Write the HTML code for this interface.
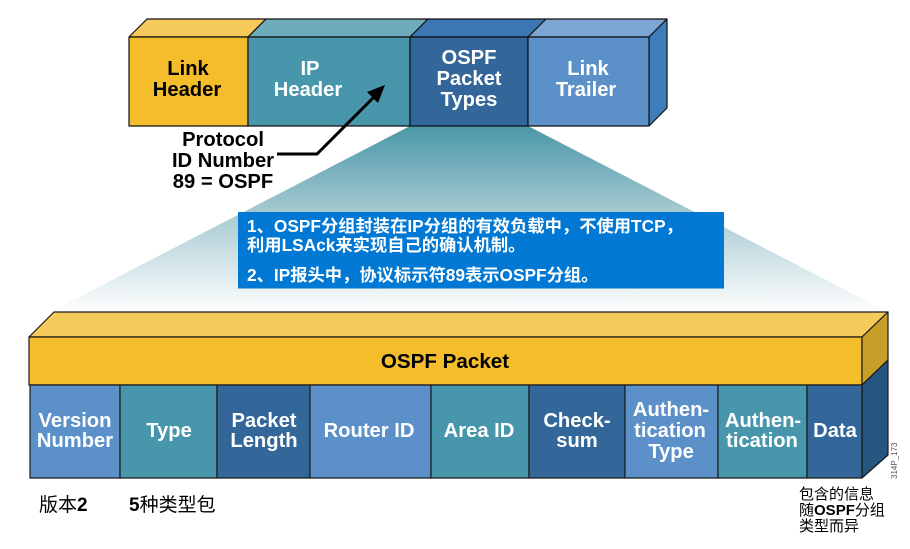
<!DOCTYPE html>
<html>
<head>
<meta charset="utf-8">
<style>
html,body{margin:0;padding:0;background:#fff;}
svg{display:block;}
text{font-family:"Liberation Sans","Noto Sans CJK SC",sans-serif;}
.l{font-size:20.200px;font-weight:bold;fill:#fff;text-anchor:middle;}
.k{font-size:20.200px;font-weight:bold;fill:#000;text-anchor:middle;}
.b{font-size:17.300px;font-weight:bold;fill:#fff;}
.n{font-size:15px;fill:#000;}
.n tspan{font-weight:bold;}
.m{font-size:19px;fill:#000;}
.m tspan{font-weight:bold;}
</style>
</head>
<body>
<svg width="910" height="549" viewBox="0 0 910 549" xmlns="http://www.w3.org/2000/svg">
<defs>
<linearGradient id="f" x1="0" y1="126" x2="0" y2="312" gradientUnits="userSpaceOnUse">
<stop offset="0" stop-color="#4a97a8"/>
<stop offset="0.45" stop-color="#a3c8d0"/>
<stop offset="1" stop-color="#ffffff"/>
</linearGradient>
</defs>
<rect width="910" height="549" fill="#fff"/>
<polygon points="410,126 528,126 888,312 50,312" fill="url(#f)"/>

<g stroke="#111" stroke-width="1.200" stroke-linejoin="round">
<polygon points="129,37 147,19 266,19 248,37" fill="#f5ca5a"/>
<polygon points="248,37 266,19 428,19 410,37" fill="#6eabbb"/>
<polygon points="410,37 428,19 546,19 528,37" fill="#3d77b3"/>
<polygon points="528,37 546,19 667,19 649,37" fill="#7ca6d3"/>
<polygon points="649,37 667,19 667,108 649,126" fill="#3f7cbc"/>
<rect x="129" y="37" width="119" height="89" fill="#f3bd2c"/>
<rect x="248" y="37" width="162" height="89" fill="#4796ab"/>
<rect x="410" y="37" width="118" height="89" fill="#336699"/>
<rect x="528" y="37" width="121" height="89" fill="#5b90c8"/>
</g>

<text class="k" x="188" y="75">Link</text>
<text class="k" x="187" y="96">Header</text>
<text class="l" x="310" y="75">IP</text>
<text class="l" x="308" y="96">Header</text>
<text class="l" x="469" y="64">OSPF</text>
<text class="l" x="469" y="85">Packet</text>
<text class="l" x="469" y="106">Types</text>
<text class="l" x="588" y="75">Link</text>
<text class="l" x="586" y="96">Trailer</text>

<text class="k" x="223" y="146">Protocol</text>
<text class="k" x="223" y="167">ID Number</text>
<text class="k" x="223" y="188">89 = OSPF</text>
<polyline points="277,154 317,154 375,96" fill="none" stroke="#000" stroke-width="3"/>
<polygon points="385,85 378,103 367,92" fill="#000"/>

<rect x="238" y="212" width="486" height="76.500" fill="#0078d4"/>
<text class="b" x="247" y="232">1、OSPF分组封装在IP分组的有效负载中，不使用TCP，</text>
<text class="b" x="247" y="251">利用LSAck来实现自己的确认机制。</text>
<text class="b" x="247" y="281">2、IP报头中，协议标示符89表示OSPF分组。</text>

<g stroke="#1a1a1a" stroke-width="1.200" stroke-linejoin="round">
<polygon points="29,337 54,312 888,312 862,337" fill="#f5ca5a"/>
<rect x="29" y="337" width="833" height="48" fill="#f3bd2c"/>
<polygon points="862,337 888,312 888,360 862,385" fill="#c89e28"/>
<polygon points="862,385 888,360 888,455 862,478" fill="#265580"/>
<rect x="30" y="385" width="90" height="93" fill="#5b90c8"/>
<rect x="120" y="385" width="97" height="93" fill="#4796ab"/>
<rect x="217" y="385" width="93" height="93" fill="#336699"/>
<rect x="310" y="385" width="121" height="93" fill="#5b90c8"/>
<rect x="431" y="385" width="98" height="93" fill="#4796ab"/>
<rect x="529" y="385" width="96" height="93" fill="#336699"/>
<rect x="625" y="385" width="93" height="93" fill="#5b90c8"/>
<rect x="718" y="385" width="89" height="93" fill="#4796ab"/>
<rect x="807" y="385" width="55" height="93" fill="#336699"/>
</g>

<text class="k" x="445" y="368" style="font-size:20.600px">OSPF Packet</text>
<text class="l" x="75" y="427">Version</text>
<text class="l" x="75" y="447">Number</text>
<text class="l" x="169" y="437">Type</text>
<text class="l" x="264" y="427">Packet</text>
<text class="l" x="264" y="447">Length</text>
<text class="l" x="369" y="437">Router ID</text>
<text class="l" x="479" y="437">Area ID</text>
<text class="l" x="577" y="427">Check-</text>
<text class="l" x="577" y="447">sum</text>
<text class="l" x="671" y="416">Authen-</text>
<text class="l" x="670" y="437">tication</text>
<text class="l" x="671" y="458">Type</text>
<text class="l" x="763" y="427">Authen-</text>
<text class="l" x="762" y="447">tication</text>
<text class="l" x="835" y="437">Data</text>

<text class="m" x="39" y="511">版本<tspan>2</tspan></text>
<text class="m" x="129" y="511"><tspan>5</tspan>种类型包</text>
<text class="n" x="799" y="499">包含的信息</text>
<text class="n" x="799" y="515">随<tspan>OSPF</tspan>分组</text>
<text class="n" x="799" y="531">类型而异</text>
<text x="897" y="479" font-size="8" fill="#555" transform="rotate(-90 897 479)">314P_173</text>
</svg>
</body>
</html>
